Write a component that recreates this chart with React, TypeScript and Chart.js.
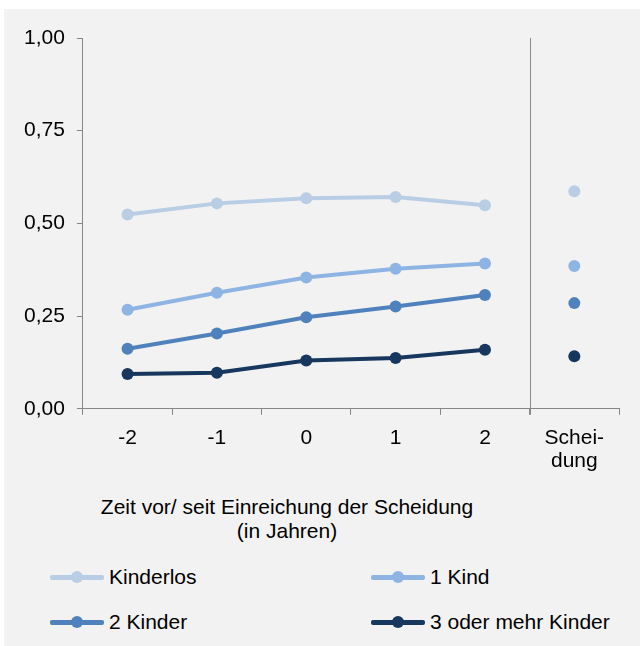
import React, { useEffect, useRef } from "react";
import { Chart, registerables } from "chart.js";

Chart.register(...registerables);

const categories: (string | string[])[] = ["-2", "-1", "0", "1", "2", ["Schei-", "dung"]];
const seriesNames = ["Kinderlos", "1 Kind", "2 Kinder", "3 oder mehr Kinder"];
const kinderlos = [0.524, 0.554, 0.568, 0.571, 0.549];
const einKind = [0.267, 0.313, 0.354, 0.378, 0.392];
const zweiKinder = [0.162, 0.203, 0.247, 0.276, 0.307];
const dreiPlus = [0.094, 0.097, 0.13, 0.137, 0.159];
const scheidungValues = [0.587, 0.385, 0.285, 0.142];
const yTicks = [0, 0.25, 0.5, 0.75, 1];
const colors = ["#b9cde5", "#8eb4e3", "#4f81bd", "#17375e"];
const xTitle = ["Zeit vor/ seit Einreichung der Scheidung", "(in Jahren)"];

const FONT = "'Liberation Sans', Arial, sans-serif";

const separatorPlugin = {
  id: "separator",
  afterDatasetsDraw(chart: any) {
    const x = chart.scales.x;
    const area = chart.chartArea;
    const px = (x.getPixelForValue(4) + x.getPixelForValue(5)) / 2;
    const ctx = chart.ctx;
    ctx.save();
    ctx.strokeStyle = "#8a8a8a";
    ctx.lineWidth = 1;
    ctx.beginPath();
    ctx.moveTo(Math.round(px) + 0.5, area.top);
    ctx.lineTo(Math.round(px) + 0.5, area.bottom + 6);
    ctx.stroke();
    ctx.restore();
  },
};

export default function App() {
  const ref = useRef<HTMLCanvasElement>(null);
  useEffect(() => {
    const all = [kinderlos, einKind, zweiKinder, dreiPlus];
    const datasets = all.map((s, i) => ({
      label: seriesNames[i],
      data: [...s, scheidungValues[i]],
      borderColor: colors[i],
      backgroundColor: colors[i],
      pointBackgroundColor: colors[i],
      pointBorderWidth: 0,
      pointRadius: 6,
      pointHoverRadius: 6,
      borderWidth: 4,
      segment: {
        borderColor: (ctx: any) => (ctx.p1DataIndex === 5 ? "rgba(0,0,0,0)" : colors[i]),
      },
    }));
    const chart = new Chart(ref.current!, {
      type: "line",
      data: { labels: categories as any, datasets },
      options: {
        animation: false,
        responsive: false,
        layout: { padding: { left: 8, right: 21, top: 29, bottom: 0 } },
        plugins: { legend: { display: false }, tooltip: { enabled: false } },
        scales: {
          x: {
            offset: true,
            grid: { offset: true, drawOnChartArea: false, tickLength: 6, color: "#868686" },
            border: { color: "#868686", width: 1 },
            ticks: { color: "#000", padding: 12, font: { family: FONT, size: 21, lineHeight: 1.1 }, maxRotation: 0 },
          },
          y: {
            min: 0,
            max: 1,
            afterBuildTicks: (axis: any) => {
              axis.ticks = yTicks.map((v) => ({ value: v }));
            },
            grid: { drawOnChartArea: false, tickLength: 6, color: "#868686" },
            border: { color: "#868686", width: 1 },
            ticks: {
              color: "#000",
              padding: 12,
              font: { family: FONT, size: 21 },
              callback: (v: any) => Number(v).toFixed(2).replace(".", ","),
            },
          },
        },
      },
      plugins: [separatorPlugin],
    });
    return () => chart.destroy();
  }, []);

  const legendItem = (i: number, left: number, top: number) => (
    <div key={i} style={{ position: "absolute", left, top, height: 24, display: "flex", alignItems: "center" }}>
      <div style={{ position: "relative", width: 54, height: 12 }}>
        <div style={{ position: "absolute", left: 0, top: 4, width: 54, height: 4.5, background: colors[i], borderRadius: 2 }} />
        <div style={{ position: "absolute", left: 21, top: 0, width: 12, height: 12, borderRadius: 6, background: colors[i] }} />
      </div>
      <span style={{ marginLeft: 5, fontFamily: FONT, fontSize: 21, color: "#000", whiteSpace: "nowrap" }}>{seriesNames[i]}</span>
    </div>
  );

  return (
    <div style={{ position: "absolute", left: 4, top: 9, width: 636, height: 637, background: "#f2f2f2" }}>
      <canvas ref={ref} width={636} height={476} style={{ position: "absolute", left: 0, top: 0, width: 636, height: 476 }} />
      <div
        style={{
          position: "absolute",
          left: 83,
          width: 400,
          top: 486,
          textAlign: "center",
          fontFamily: FONT,
          fontSize: 21,
          lineHeight: "24px",
          color: "#000",
        }}
      >
        {xTitle.map((t, i) => (
          <div key={i}>{t}</div>
        ))}
      </div>
      {legendItem(0, 46, 556)}
      {legendItem(1, 367, 556)}
      {legendItem(2, 46, 601)}
      {legendItem(3, 367, 601)}
    </div>
  );
}
